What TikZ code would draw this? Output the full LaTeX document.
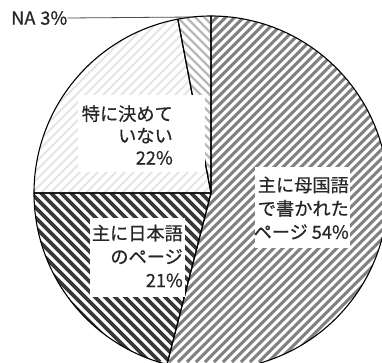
\documentclass[tikz,border=0pt]{standalone}
\usepackage{fontspec}
\setmainfont{Noto Sans CJK JP}[FakeBold=0.6]
\begin{document}
\begin{tikzpicture}[x=1pt,y=1pt,
  slice/.style={draw=black,line width=1.1pt,line join=round},
  lab/.style={font=\fontsize{18.2}{23.5}\selectfont,align=right,inner sep=0pt,anchor=east,text=black!85},
  whitebox/.style={fill=white},
  leader/.style={draw=black!70,line width=0.8pt}]
\useasboundingbox (0,0) rectangle (382,362);
\fill[white] (0,0) rectangle (382,362);
\def\R{177}
\coordinate (c) at (211,169);
% 54% slice
\begin{scope}
  \clip (c) -- ++(90:\R) arc[start angle=90,end angle=-104.4,radius=\R] -- cycle;
  \foreach \k in {-380,-371,...,400} \draw[black!50,line width=3pt] (\k,0) -- ++(380,380);
\end{scope}
% 21% slice
\begin{scope}
  \clip (c) -- ++(-104.4:\R) arc[start angle=-104.4,end angle=-180,radius=\R] -- cycle;
  \foreach \k in {0,10,...,760} \draw[black!78,line width=3.6pt] (\k,0) -- ++(-380,380);
\end{scope}
% 22% slice
\begin{scope}
  \clip (c) -- ++(180:\R) arc[start angle=180,end angle=100.8,radius=\R] -- cycle;
  \foreach \k in {-380,-371,...,400} \draw[black!10,line width=2pt] (\k,0) -- ++(380,380);
\end{scope}
% NA slice
\begin{scope}
  \clip (c) -- ++(100.8:\R) arc[start angle=100.8,end angle=90,radius=\R] -- cycle;
  \foreach \k in {0,9,...,760} \draw[black!28,line width=2.2pt] (\k,0) -- ++(-380,380);
\end{scope}
% outlines
\draw[slice] (c) -- ++(90:\R) arc[start angle=90,end angle=-104.4,radius=\R] -- cycle;
\draw[slice] (c) -- ++(-104.4:\R) arc[start angle=-104.4,end angle=-180,radius=\R] -- cycle;
\draw[slice] (c) -- ++(180:\R) arc[start angle=180,end angle=100.8,radius=\R] -- cycle;
\draw[slice] (c) -- ++(100.8:\R) arc[start angle=100.8,end angle=90,radius=\R] -- cycle;
% label boxes
\fill[whitebox] (255,114) rectangle (350,195);
\fill[whitebox] (78,190) rectangle (205,267);
\fill[whitebox] (90,65) rectangle (185,144);
\node[lab] (l54) at (349,154) {主に母国語\\で書かれた\\ページ\hspace{4pt}54\%};
\node[lab,font=\fontsize{18.2}{22}\selectfont] (l22) at (173,227) {特に決めて\\いない\\22\%};
\node[lab] (l21) at (183,106) {主に日本語\\のページ\\21\%};
% NA label and leader
\node[lab,anchor=west] (na) at (11,344) {NA\hspace{5pt}3\%};
\coordinate (naend) at (194,345);
\draw[leader] (na.east) -- (naend);
\end{tikzpicture}
\end{document}
